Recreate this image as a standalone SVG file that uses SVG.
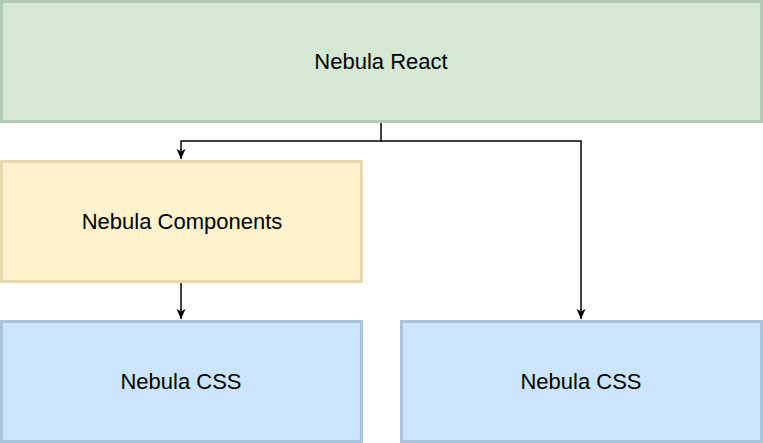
<svg xmlns="http://www.w3.org/2000/svg" width="763" height="443" viewBox="0 0 763 443">
<style>
.lbl{font-family:"Liberation Sans",Arial,Helvetica,sans-serif;font-size:22px;fill:#000;text-anchor:middle;dominant-baseline:central}
.g{fill:#d5e8d4;stroke:#b3c9b1;stroke-width:3}
.y{fill:#fff2cc;stroke:#e8d8ae;stroke-width:3}
.b{fill:#cce5ff;stroke:#aac3dd;stroke-width:3}
.c{fill:none;stroke:#000;stroke-width:1.5}
</style>
<defs>
<marker id="ah" markerWidth="12" markerHeight="12" refX="10" refY="5" orient="auto" markerUnits="userSpaceOnUse">
<path d="M0,0.5 L10,5 L0,9.5 L2.5,5 Z" fill="#000"/>
</marker>
</defs>
<g id="connectors">
<path class="c" d="M381,123 V141 H181 V159" marker-end="url(#ah)"/>
<path class="c" d="M381,141 H581 V319" marker-end="url(#ah)"/>
<path class="c" d="M181,283 V319" marker-end="url(#ah)"/>
</g>
<g id="nebula-react">
<rect class="g" x="1.5" y="1.5" width="760" height="120"/>
<text class="lbl" x="381" y="61">Nebula React</text>
</g>
<g id="nebula-components">
<rect class="y" x="1.5" y="161.5" width="360" height="120"/>
<text class="lbl" x="182" y="221">Nebula Components</text>
</g>
<g id="nebula-css-left">
<rect class="b" x="1.5" y="321.5" width="360" height="120"/>
<text class="lbl" x="181" y="381">Nebula CSS</text>
</g>
<g id="nebula-css-right">
<rect class="b" x="401.5" y="321.5" width="360" height="120"/>
<text class="lbl" x="581" y="381">Nebula CSS</text>
</g>
</svg>
